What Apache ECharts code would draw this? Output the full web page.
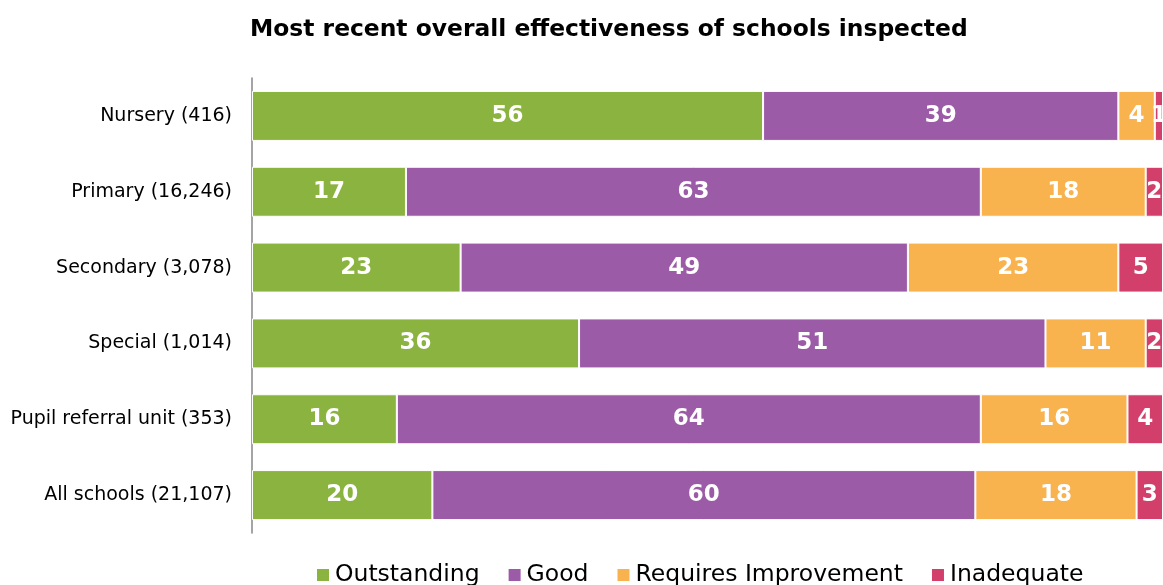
<!DOCTYPE html>
<html><head><meta charset="utf-8">
<script src="https://cdn.jsdelivr.net/npm/echarts@6/dist/echarts.min.js"></script>
<style>html,body{margin:0;padding:0;background:#fff}#c{width:1163px;height:585px}</style>
</head><body><div id="c"></div>
<script>
const categories = ['Nursery (416)','Primary (16,246)','Secondary (3,078)','Special (1,014)','Pupil referral unit (353)','All schools (21,107)'];
const seriesNames = ['Outstanding','Good','Requires Improvement','Inadequate'];
const outstanding = [56.1, 16.9, 22.9, 35.9, 15.9, 19.8];
const good = [39.0, 63.1, 49.1, 51.2, 64.1, 59.6];
const requiresImprovement = [4.0, 18.1, 23.1, 11.0, 16.1, 17.7];
const inadequate = [0.9, 1.9, 4.9, 1.9, 3.9, 2.9];
const colors = ['#8bb33f','#9b5ba7','#f8b24e','#d13f6a'];
const FONT = 'DejaVu Sans';
const chart = echarts.init(document.getElementById('c'));
const mk = (name, data, i) => ({
  name, type:'bar', stack:'t', data, barWidth:50,
  itemStyle:{color:colors[i], borderColor:'#fff', borderWidth:1},
  label:{show:true, position:'inside', color:'#fff', fontFamily:FONT, fontWeight:'bold', fontSize:23,
    formatter:p=>Math.round(p.value)},
  emphasis:{disabled:true}
});
chart.setOption({
  animation:false,
  title:{text:'Most recent overall effectiveness of schools inspected', left:245, top:13,
    textStyle:{fontFamily:FONT, fontWeight:'bold', fontSize:23.4, color:'#000'}},
  legend:{left:310, top:558, itemWidth:14, itemHeight:14, itemGap:27, icon:'rect',
    textStyle:{fontFamily:FONT, fontSize:23.5, color:'#000'}, data:seriesNames},
  grid:{left:252, right:0, top:78, bottom:52, containLabel:false},
  xAxis:{type:'value', min:0, max:100, show:false},
  yAxis:{type:'category', data:categories, inverse:true,
    axisLine:{show:true, lineStyle:{color:'#868686', width:1.5}}, axisTick:{show:false},
    axisLabel:{fontFamily:FONT, fontSize:19, color:'#000', margin:20}},
  series:[mk(seriesNames[0],outstanding,0), mk(seriesNames[1],good,1), mk(seriesNames[2],requiresImprovement,2), mk(seriesNames[3],inadequate,3)]
});
</script></body></html>
